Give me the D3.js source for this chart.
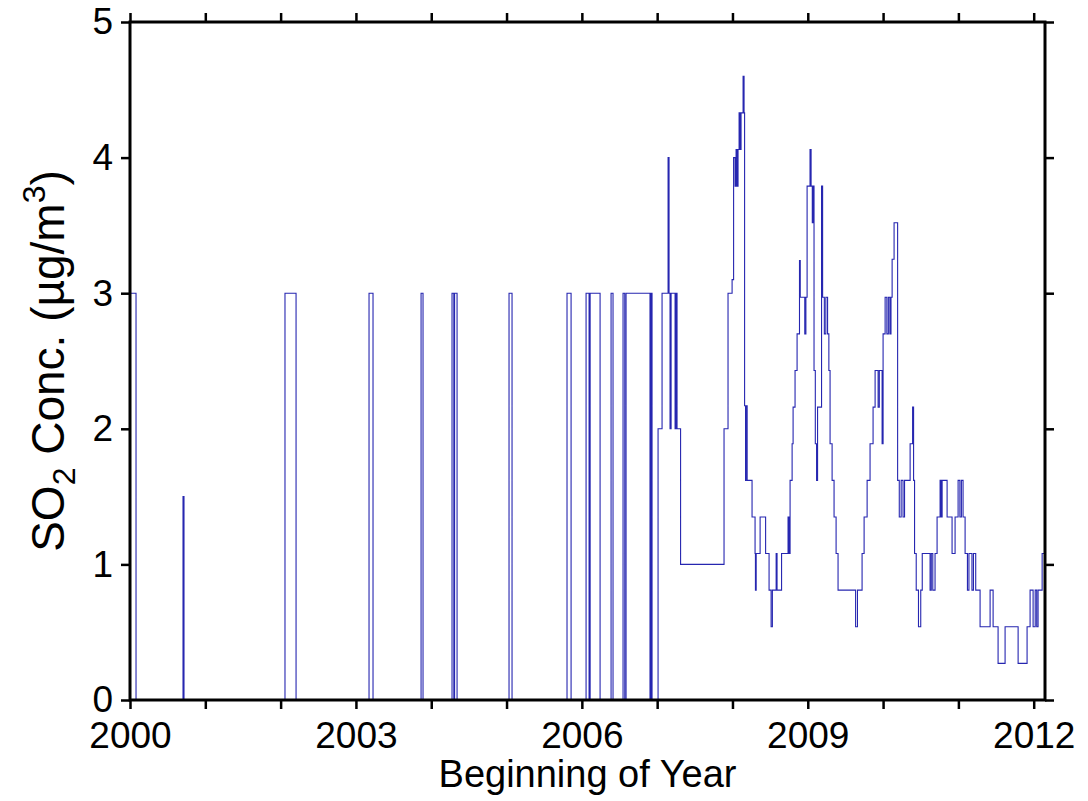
<!DOCTYPE html>
<meta charset="utf-8">
<style>
  body { margin: 0; background: #fff; }
  svg text { font-family: "Liberation Sans", Arial, sans-serif; fill: #000; }
</style>
<body>
<script src="https://cdn.jsdelivr.net/npm/d3@7/dist/d3.min.js"></script>
<script>
  var width = 1088, height = 801;
  var margin = {top: 22, right: 43, bottom: 101, left: 130};
  var plotW = width - margin.left - margin.right,
      plotH = height - margin.top - margin.bottom;

  // sparse detections, 2000 - early 2007 (step starts, value holds until next step)
  var sparseYears = [2000.000, 2000.080, 2000.704, 2000.717, 2002.058, 2002.205,
    2003.174, 2003.227, 2003.865, 2003.891, 2004.276, 2004.300, 2004.310, 2004.343,
    2005.033, 2005.073, 2005.803, 2005.857, 2006.056, 2006.096, 2006.110, 2006.242,
    2006.388, 2006.414, 2006.547, 2006.570, 2006.587, 2006.905, 2006.918, 2006.932,
    2007.012, 2007.065, 2007.145, 2007.158, 2007.171, 2007.185, 2007.238, 2007.251,
    2007.264, 2007.311];
  var sparseConc = [3, 0, 1.5, 0, 3, 0,
    3, 0, 3, 0, 3, 0, 3, 0,
    3, 0, 3, 0, 3, 0, 3, 0,
    3, 0, 3, 0, 3, 0, 3, 0,
    2, 3, 4, 3, 2, 3, 2, 3,
    2, 1];

  // seasonal part, late 2007 - 2012
  var seasonYears = [2007.888, 2007.941, 2007.995, 2008.015, 2008.035, 2008.048, 2008.061,
    2008.074, 2008.088, 2008.101, 2008.114, 2008.141, 2008.154, 2008.161, 2008.174,
    2008.180, 2008.195, 2008.260, 2008.300, 2008.305, 2008.315, 2008.367, 2008.440,
    2008.486, 2008.513, 2008.530, 2008.580, 2008.592, 2008.652, 2008.738, 2008.752,
    2008.765, 2008.792, 2008.805, 2008.831, 2008.858, 2008.871, 2008.890, 2008.900,
    2008.960, 2008.975, 2008.991, 2009.030, 2009.044, 2009.060, 2009.070, 2009.083,
    2009.100, 2009.117, 2009.130, 2009.183, 2009.197, 2009.220, 2009.240, 2009.263,
    2009.280, 2009.296, 2009.323, 2009.349, 2009.376, 2009.402, 2009.635, 2009.660,
    2009.721, 2009.748, 2009.788, 2009.827, 2009.867, 2009.894, 2009.934, 2009.950,
    2009.987, 2010.000, 2010.027, 2010.050, 2010.070, 2010.090, 2010.105, 2010.120,
    2010.146, 2010.193, 2010.215, 2010.240, 2010.265, 2010.285, 2010.359, 2010.392,
    2010.405, 2010.418, 2010.440, 2010.470, 2010.500, 2010.520, 2010.624, 2010.640,
    2010.660, 2010.690, 2010.717, 2010.757, 2010.770, 2010.784, 2010.850, 2010.916,
    2010.956, 2010.996, 2011.020, 2011.040, 2011.062, 2011.089, 2011.120, 2011.140,
    2011.180, 2011.200, 2011.230, 2011.288, 2011.421, 2011.461, 2011.527, 2011.620,
    2011.793, 2011.912, 2011.952, 2011.992, 2012.020, 2012.040, 2012.058, 2012.112,
    2012.150];
  var seasonConc = [2, 3, 3.1, 4, 3.79, 4.06, 3.79,
    4.06, 4.33, 4.06, 4.33, 4.6, 4.33, 2.17, 1.62,
    2.17, 1.62, 1.35, 1.08, 0.81, 1.08, 1.35, 1.08,
    0.81, 0.54, 0.81, 1.08, 0.81, 1.08, 1.35, 1.08,
    1.62, 1.89, 2.16, 2.43, 2.70, 2.70, 3.24, 2.97,
    2.70, 2.97, 3.79, 4.06, 3.79, 3.52, 3.79, 2.43,
    1.89, 1.62, 2.16, 3.79, 2.97, 2.70, 2.97, 2.70,
    2.43, 1.89, 1.62, 1.35, 1.08, 0.81, 0.54, 0.81,
    1.08, 1.35, 1.62, 1.89, 2.16, 2.43, 2.16, 2.43,
    1.89, 2.70, 2.97, 2.70, 2.97, 2.70, 2.97, 3.25,
    3.52, 1.62, 1.35, 1.62, 1.35, 1.62, 1.89, 2.16,
    1.62, 1.08, 0.81, 0.54, 0.81, 1.08, 0.81, 1.08,
    0.81, 1.08, 1.35, 1.62, 1.35, 1.62, 1.35, 1.08,
    1.35, 1.62, 1.35, 1.62, 1.35, 1.08, 0.81, 1.08,
    0.81, 1.08, 0.81, 0.54, 0.81, 0.54, 0.27, 0.54,
    0.27, 0.54, 0.81, 0.54, 0.81, 0.54, 0.81, 1.08,
    1.08];

  var xTicks = d3.range(2000, 2013);
  var xLabels = [2000, 2003, 2006, 2009, 2012];
  var yTicks = [0, 1, 2, 3, 4, 5];

  var svg = d3.select("body").append("svg")
      .attr("width", width)
      .attr("height", height);

  var g = svg.append("g")
      .attr("transform", "translate(" + margin.left + "," + margin.top + ")");

  var x = d3.scaleLinear().domain([2000, 2012.15]).range([0, plotW]);
  var y = d3.scaleLinear().domain([0, 5]).range([plotH, 0]);

  var years = sparseYears.concat(seasonYears),
      conc = sparseConc.concat(seasonConc);
  var data = years.map(function(d, i) { return [d, conc[i]]; });

  var line = d3.line()
      .x(function(d) { return x(d[0]); })
      .y(function(d) { return y(d[1]); })
      .curve(d3.curveStepAfter);

  g.append("path")
      .datum(data)
      .attr("d", line)
      .attr("fill", "none")
      .attr("stroke", "#2626b0")
      .attr("stroke-width", 1.1);

  function fmtX(d) { return xLabels.indexOf(d) >= 0 ? d : ""; }

  var axes = [
    g.append("g").attr("transform", "translate(0," + plotH + ")")
      .call(d3.axisBottom(x).tickValues(xTicks).tickFormat(fmtX).tickSize(9).tickPadding(13)),
    g.append("g")
      .call(d3.axisTop(x).tickValues(xTicks).tickFormat("").tickSize(9)),
    g.append("g")
      .call(d3.axisLeft(y).tickValues(yTicks).tickFormat(d3.format("d")).tickSize(9).tickPadding(8)),
    g.append("g").attr("transform", "translate(" + plotW + ",0)")
      .call(d3.axisRight(y).tickValues(yTicks).tickFormat("").tickSize(9))
  ];
  axes.forEach(function(a) {
    a.select(".domain").remove();
    a.selectAll(".tick line").attr("stroke", "#000").attr("stroke-width", 2.5);
    a.selectAll(".tick text").style("font-size", "37px").attr("fill", "#000");
  });

  // frame
  g.append("rect")
      .attr("width", plotW)
      .attr("height", plotH)
      .attr("fill", "none")
      .attr("stroke", "#000")
      .attr("stroke-width", 3);

  svg.append("text")
      .attr("x", margin.left + plotW / 2)
      .attr("y", 787)
      .attr("text-anchor", "middle")
      .style("font-size", "38px")
      .text("Beginning of Year");

  var yl = svg.append("text")
      .attr("transform", "translate(64," + (margin.top + plotH / 2) + ") rotate(-90)")
      .attr("text-anchor", "middle")
      .style("font-size", "46px");
  yl.append("tspan").text("SO");
  yl.append("tspan").attr("dy", 11).style("font-size", "32px").text("2");
  yl.append("tspan").attr("dy", -11).text(" Conc. (\u00b5g/m");
  yl.append("tspan").attr("dy", -19).style("font-size", "32px").text("3");
  yl.append("tspan").attr("dy", 19).text(")");
</script>
</body>
</html>
